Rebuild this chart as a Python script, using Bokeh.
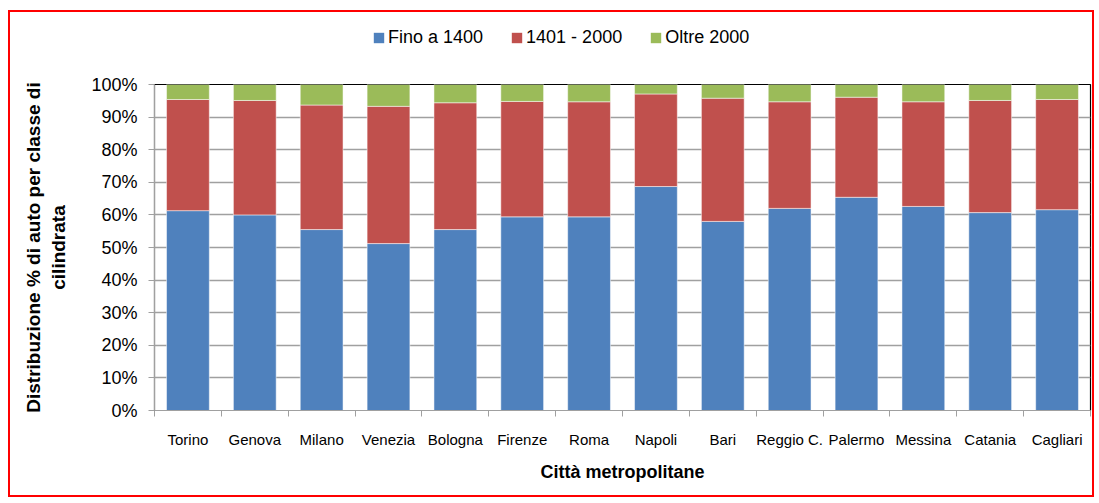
from bokeh.plotting import figure
from bokeh.layouts import column
from bokeh.models import (ColumnDataSource, FixedTicker, PrintfTickFormatter, Legend,
                          LegendItem, LinearAxis, Range1d)
from bokeh.embed import file_html
from bokeh.resources import INLINE

cities = ["Torino", "Genova", "Milano", "Venezia", "Bologna", "Firenze", "Roma",
          "Napoli", "Bari", "Reggio C.", "Palermo", "Messina", "Catania", "Cagliari"]
fino_1400 = [61.3, 60.0, 55.5, 51.2, 55.5, 59.4, 59.4, 68.7, 58.0, 62.0, 65.4, 62.6, 60.7, 61.6]
da_1401_2000 = [34.1, 35.1, 38.2, 42.1, 38.9, 35.4, 35.3, 28.4, 37.8, 32.7, 30.7, 32.1, 34.4, 33.8]
oltre_2000 = [4.6, 4.9, 6.3, 6.7, 5.6, 5.2, 5.3, 2.9, 4.2, 5.3, 3.9, 5.3, 4.9, 4.6]
series_names = ["Fino a 1400", "1401 - 2000", "Oltre 2000"]
colors = ["#4F81BD", "#C0504D", "#9BBB59"]
y_ticks = [0, 10, 20, 30, 40, 50, 60, 70, 80, 90, 100]

FONT = "Liberation Sans"

n = len(cities)
xs = [i + 0.5 for i in range(n)]
src = ColumnDataSource(dict(x=xs, city=cities, a=fino_1400, b=da_1401_2000, c=oltre_2000))

# ---- main chart ----
p = figure(width=1082, height=443, output_backend="svg", toolbar_location=None,
           x_range=Range1d(0, n), y_range=Range1d(0, 100),
           min_border_left=144, min_border_right=2, min_border_top=32, min_border_bottom=85,
           x_axis_type=None)
p.outline_line_color = "black"
p.outline_line_width = 1.2

renderers = p.vbar_stack(["a", "b", "c"], x="x", width=0.64, source=src, color=colors,
                         line_color="white", line_alpha=0.5, line_width=1)

yax = p.yaxis[0]
yax.ticker = FixedTicker(ticks=y_ticks)
yax.formatter = PrintfTickFormatter(format="%d%%")
yax.major_label_text_font = FONT
yax.major_label_text_font_size = "18px"
yax.major_label_text_color = "black"
yax.axis_line_color = "#A0A0A0"
yax.major_tick_line_color = "#A0A0A0"
yax.major_tick_out = 6
yax.major_tick_in = 0
yax.minor_tick_line_color = None
yax.major_label_standoff = 11
yax.axis_label = "Distribuzione % di auto per classe di\ncilindrata"
yax.axis_label_text_font = FONT
yax.axis_label_text_font_style = "bold"
yax.axis_label_text_font_size = "19px"
yax.axis_label_text_color = "black"
yax.axis_label_standoff = 19

p.ygrid.ticker = FixedTicker(ticks=y_ticks)
p.ygrid.grid_line_color = "#A0A0A0"
p.ygrid.grid_line_width = 1.5
p.xgrid.grid_line_color = None

xax = LinearAxis(ticker=FixedTicker(ticks=xs, minor_ticks=list(range(n + 1))))
xax.major_label_overrides = {x: c for x, c in zip(xs, cities)}
xax.major_tick_out = 0
xax.major_tick_in = 0
xax.minor_tick_out = 6
xax.minor_tick_in = 0
xax.minor_tick_line_color = "#A0A0A0"
xax.axis_line_color = "#A0A0A0"
xax.major_label_standoff = 14
xax.major_label_text_font = FONT
xax.major_label_text_font_size = "15px"
xax.major_label_text_color = "black"
xax.axis_label = "Città metropolitane"
xax.axis_label_text_font = FONT
xax.axis_label_text_font_style = "bold"
xax.axis_label_text_font_size = "18px"
xax.axis_label_text_color = "black"
xax.axis_label_standoff = 11
p.add_layout(xax, "below")

# ---- legend strip above the chart (hidden copies of the series supply the swatches) ----
lf = figure(width=1082, height=40, output_backend="svg", toolbar_location=None,
            x_range=Range1d(0, n), y_range=Range1d(0, 100),
            x_axis_type=None, y_axis_type=None, min_border=0)
lf.outline_line_color = None
lf.xgrid.grid_line_color = None
lf.ygrid.grid_line_color = None
lrend = lf.vbar_stack(["a", "b", "c"], x="x", width=0.64, source=src, color=colors,
                      line_color=None)
for r in lrend:
    r.visible = False
legend = Legend(items=[LegendItem(label=nm, renderers=[r]) for nm, r in zip(series_names, lrend)],
                orientation="horizontal", location=(218, 4), padding=0, margin=0,
                spacing=27, glyph_width=13, glyph_height=13, label_standoff=3,
                label_text_font=FONT, label_text_font_size="18px", label_text_color="black",
                border_line_color=None, background_fill_alpha=0)
lf.add_layout(legend, "center")

layout = column(lf, p, spacing=0)
layout.styles = {"border": "2px solid #FF0000", "margin-left": "8px", "margin-top": "10px"}

open("out.html", "w").write(file_html(layout, INLINE))
